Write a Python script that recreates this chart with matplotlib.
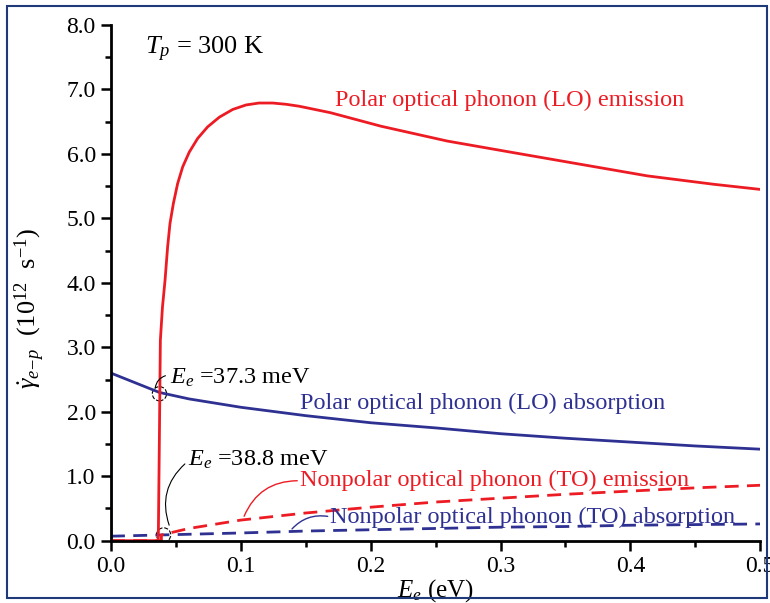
import numpy as np
import matplotlib.pyplot as plt
from matplotlib.patches import Ellipse, Rectangle

plt.rcParams['font.family'] = 'Liberation Serif'
plt.rcParams['mathtext.fontset'] = 'custom'
plt.rcParams['mathtext.rm'] = 'Liberation Serif'
plt.rcParams['mathtext.it'] = 'Liberation Serif:italic'

RED = '#ed1c24'
BLUE = '#2e3192'

# electron energy (eV) and rates (10^12 s^-1)
x_lo_em = [0.0, 0.0364, 0.0372, 0.038, 0.0396, 0.0416, 0.0424, 0.0436, 0.0454, 0.048,
           0.0513, 0.0552, 0.0603, 0.0667, 0.0744, 0.0834, 0.0937, 0.104, 0.114, 0.1245,
           0.135, 0.145, 0.169, 0.208, 0.259, 0.310, 0.3615, 0.413, 0.464, 0.5]
y_lo_em = [0.0, 0.0, 1.5, 3.11, 3.62, 4.04, 4.25, 4.56, 4.92, 5.23,
           5.54, 5.80, 6.03, 6.24, 6.42, 6.57, 6.69, 6.76, 6.79, 6.79,
           6.77, 6.74, 6.64, 6.43, 6.20, 6.02, 5.84, 5.66, 5.53, 5.45]

x_lo_ab = [0.0, 0.0, 0.0373, 0.06, 0.1, 0.15, 0.2, 0.25, 0.3, 0.35, 0.4, 0.45, 0.5]
y_lo_ab = [0.0, 2.60, 2.30, 2.20, 2.07, 1.94, 1.83, 1.75, 1.66, 1.59, 1.53, 1.47, 1.42]

x_to_em = [0.0, 0.0388, 0.0388, 0.06, 0.1, 0.15, 0.2, 0.25, 0.3, 0.35, 0.4, 0.45, 0.5]
y_to_em = [0.0, 0.0, 0.09, 0.19, 0.32, 0.43, 0.52, 0.60, 0.66, 0.72, 0.77, 0.82, 0.86]

x_to_ab = [0.0, 0.04, 0.1, 0.15, 0.2, 0.25, 0.3, 0.35, 0.4, 0.45, 0.5]
y_to_ab = [0.07, 0.09, 0.12, 0.15, 0.17, 0.19, 0.21, 0.22, 0.24, 0.25, 0.26]

fig = plt.figure(figsize=(7.7, 6.03), dpi=100)
ax = fig.add_axes([0.1442, 0.1033, 0.843, 0.8552])

ax.plot(x_to_ab, y_to_ab, color=BLUE, lw=2, ls=(0, (5, 3)))
ax.plot(x_to_em, y_to_em, color=RED, lw=2, ls=(0, (5, 3)))
ax.plot(x_lo_ab, y_lo_ab, color=BLUE, lw=2)
ax.plot(x_lo_em, y_lo_em, color=RED, lw=2)

ax.set_xlim(0, 0.5)
ax.set_ylim(0, 8)
ax.set_xticks(np.arange(0, 0.51, 0.1))
ax.set_xticks(np.arange(0.05, 0.5, 0.1), minor=True)
ax.set_yticks(np.arange(0, 8.1, 1))
ax.set_yticks(np.arange(0.5, 8, 1), minor=True)
ax.set_xticklabels(['0.0', '0.1', '0.2', '0.3', '0.4', '0.5'])
ax.set_yticklabels(['%.1f' % v for v in np.arange(0, 8.1, 1)])
ax.tick_params(which='major', direction='out', length=7, width=1.8, labelsize=17, pad=4)
ax.tick_params(which='minor', direction='out', length=4.5, width=1.8)
for s in ['top', 'right']:
    ax.spines[s].set_visible(False)
for s in ['left', 'bottom']:
    ax.spines[s].set_linewidth(2)

ax.set_xlabel(r'$E_e$ (eV)', fontsize=18, labelpad=0)
ax.set_ylabel(r'$\dot{\gamma}_{e\!-\!p}$  (10$^{12}$  s$^{-1}$)', fontsize=19)
ax.yaxis.set_label_coords(-0.098, 0.45)

ax.text(0.026, 7.62, r'$T_p$ = 300 K', fontsize=19, va='center')
ax.text(0.1726, 6.83, 'Polar optical phonon (LO) emission', color=RED, fontsize=17.5, va='center')
ax.text(0.1456, 2.13, 'Polar optical phonon (LO) absorption', color=BLUE, fontsize=17.5, va='center')
ax.text(0.1456, 0.93, 'Nonpolar optical phonon (TO) emission', color=RED, fontsize=17.5, va='center')
ax.text(0.169, 0.36, 'Nonpolar optical phonon (TO) absorption', color=BLUE, fontsize=17.5, va='center')

ax.text(0.0455, 2.52, r'$E_e$ =37.3 meV', fontsize=17.5, va='center')
ax.text(0.0593, 1.25, r'$E_e$ =38.8 meV', fontsize=17.5, va='center')

ax.add_patch(Ellipse((0.0373, 2.28), 0.011, 0.22, fill=False, ls='--', lw=0.8, color='black'))
ax.add_patch(Ellipse((0.0405, 0.09), 0.011, 0.22, fill=False, ls='--', lw=0.8, color='black'))

ax.annotate('', xy=(0.0339, 2.33), xytext=(0.0440, 2.57),
            arrowprops=dict(arrowstyle='-', lw=0.8, color='black', connectionstyle='arc3,rad=0.4'))
ax.annotate('', xy=(0.0455, 0.20), xytext=(0.0585, 1.22),
            arrowprops=dict(arrowstyle='-', lw=0.8, color='black', connectionstyle='arc3,rad=0.35'))
ax.annotate('', xy=(0.1017, 0.34), xytext=(0.1456, 0.93),
            arrowprops=dict(arrowstyle='-', lw=1, color=RED, connectionstyle='arc3,rad=0.35'))
ax.annotate('', xy=(0.138, 0.15), xytext=(0.169, 0.37),
            arrowprops=dict(arrowstyle='-', lw=1, color=BLUE, connectionstyle='arc3,rad=0.3'))

fig.patches.append(Rectangle((0.009, 0.008), 0.987, 0.982, transform=fig.transFigure,
                             fill=False, edgecolor='#1f3a7a', lw=1.5))

fig.savefig('out.png', dpi=100)
